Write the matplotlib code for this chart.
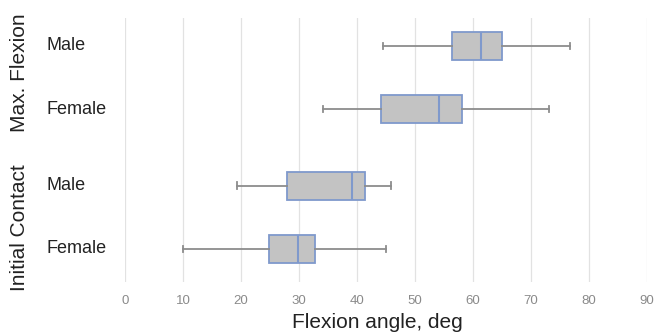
import matplotlib
matplotlib.use("Agg")
import matplotlib.pyplot as plt
from matplotlib.transforms import blended_transform_factory

plt.rcParams['font.family'] = ['Liberation Sans', 'DejaVu Sans']

# data (deg): bottom to top
labels = ["Female", "Male", "Female", "Male"]
groups = ["Initial Contact", "Max. Flexion"]
whislo = [10.0, 19.3, 34.1, 44.5]
q1 = [24.8, 27.9, 44.1, 56.4]
med = [29.8, 39.1, 54.1, 61.4]
q3 = [32.8, 41.4, 58.1, 65.0]
whishi = [45.0, 45.9, 73.1, 76.7]
xticks = [0, 10, 20, 30, 40, 50, 60, 70, 80, 90]

positions = [1, 2, 3.22, 4.22]

stats = []
for i in range(len(labels)):
    stats.append(dict(whislo=whislo[i], q1=q1[i], med=med[i], q3=q3[i],
                      whishi=whishi[i], fliers=[], label=labels[i]))

fig = plt.figure(figsize=(6.55, 3.34), dpi=100)
ax = fig.add_axes([125 / 655, 52 / 334, 522 / 655, 264 / 334])

box_edge = '#7f99cc'
grey = '#8c8c8c'
ax.bxp(stats, positions=positions, vert=False, widths=0.44, patch_artist=True,
       showfliers=False,
       boxprops=dict(facecolor='#c3c3c3', edgecolor=box_edge, linewidth=1.3),
       medianprops=dict(color=box_edge, linewidth=1.5),
       whiskerprops=dict(color=grey, linewidth=1.3),
       capprops=dict(color=grey, linewidth=1.3),
       capwidths=0.11, zorder=3)

ax.set_xlim(0, 90)
ax.set_ylim(0.476, 4.664)
ax.set_xticks(xticks)
ax.set_xticklabels([str(t) for t in xticks])
ax.set_yticks([])
ax.tick_params(axis='x', length=0, pad=9, labelsize=9.5, labelcolor='#8a8a8a')
ax.grid(axis='x', color='#e2e2e2', linewidth=0.9, zorder=0)
ax.set_axisbelow(True)
for s in ax.spines.values():
    s.set_visible(False)

# category labels
trans = blended_transform_factory(fig.transFigure, ax.transData)
for p, lab in zip(positions, labels):
    ax.text(47 / 655, p, lab, transform=trans, ha='left', va='center',
            fontsize=13, color='#222222', clip_on=False)

# group labels
fig.text(20 / 655, 1 - 73 / 334, groups[1], rotation=90, ha='center',
         va='center', fontsize=15, color='#222222')
fig.text(20 / 655, 1 - 228 / 334, groups[0], rotation=90, ha='center',
         va='center', fontsize=15, color='#222222')

fig.text(377 / 655, 1 - 323 / 334, "Flexion angle, deg", ha='center',
         va='center', fontsize=15, color='#222222')

fig.savefig("out.png", dpi=100)
